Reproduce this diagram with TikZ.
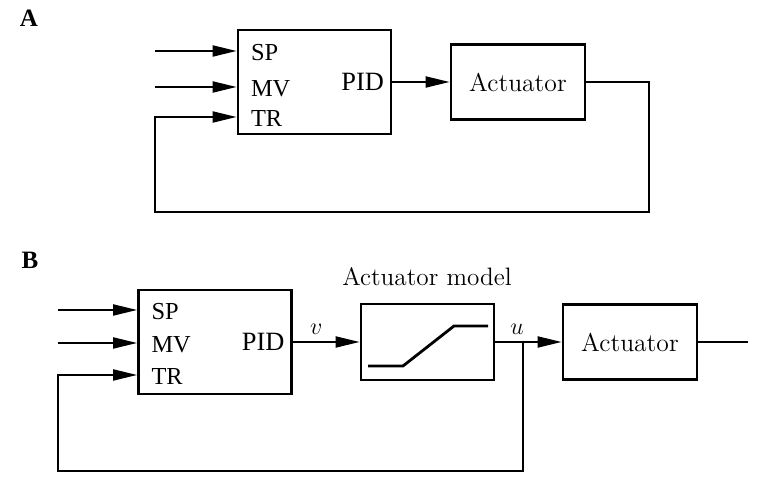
\documentclass[tikz,border=0pt]{standalone}
\usepackage{fontspec}
\usepackage{tikz}
\usetikzlibrary{arrows.meta, positioning, calc}
\newfontfamily\timesfont{Liberation Serif}

\begin{document}
\begin{tikzpicture}[
    x=0.5pt, y=-0.5pt,
    block/.style={draw, line width=1.4pt, inner sep=0pt, font=\fontsize{12.8}{15}\selectfont},
    pidbox/.style={block, minimum width=76.5pt, minimum height=52pt},
    actbox/.style={block, minimum width=67pt, minimum height=37.5pt},
    signal/.style={line width=1pt},
    arrow/.style={signal, -{Triangle[length=12pt, width=5.5pt]}},
    port/.style={anchor=west, xshift=7pt, yshift=-1pt, inner sep=0pt, font=\fontsize{12.2}{14}\timesfont},
    ctrl/.style={anchor=east, xshift=-4pt, inner sep=0pt, font=\fontsize{13.2}{15}\timesfont},
    title/.style={font=\fontsize{12.5}{15}\timesfont\bfseries}
]
    \useasboundingbox (0,0) rectangle (773,490);

    % A: PID driving the actuator
    \node[title] (labA) at (29,18) {A};
    \node[pidbox] (pidA) at (314.5,82) {};
    \node[actbox] (actA) at (518,82) {Actuator};
    \coordinate (inSPA) at (155,51);
    \coordinate (inMVA) at (155,87);
    \coordinate (inTRA) at (155,117);
    \coordinate (cornA) at (649,212);
    \node[port] (spA) at (pidA.west |- inSPA) {SP};
    \node[port] (mvA) at (pidA.west |- inMVA) {MV};
    \node[port] (trA) at (pidA.west |- inTRA) {TR};
    \node[ctrl] (pidLabA) at (pidA.east) {PID};
    \draw[arrow] (inSPA) -- (inSPA -| pidA.west);
    \draw[arrow] (inMVA) -- (inMVA -| pidA.west);
    \draw[arrow] (pidA.east) -- (actA.west);
    \draw[arrow] (actA.east) -| (cornA) -| (inTRA) -- (inTRA -| pidA.west);

    % B: PID with actuator model in the tracking loop
    \node[title] (labB) at (30,260) {B};
    \node[pidbox] (pidB) at (215,342) {};
    \node[block, minimum width=66.5pt, minimum height=38pt] (modB) at (427.5,342) {};
    \node[font=\fontsize{12.6}{15}\selectfont] (modLab) at (427,277) {Actuator model};
    \node[actbox] (actB) at (630,342) {Actuator};
    \coordinate (inSPB) at (58,310);
    \coordinate (inMVB) at (58,343);
    \coordinate (inTRB) at (58,375);
    \coordinate (brB) at (523,342);
    \coordinate (cornB) at (523,471);
    \coordinate (outB) at (748,342);
    \node[port] (spB) at (pidB.west |- inSPB) {SP};
    \node[port] (mvB) at (pidB.west |- inMVB) {MV};
    \node[port] (trB) at (pidB.west |- inTRB) {TR};
    \node[ctrl] (pidLabB) at (pidB.east) {PID};
    \draw[line width=1.4pt] ([shift={(-59.5,24)}]modB.center) -- ++(35,0) -- ++(51,-40) -- ++(34,0);
    \draw[arrow] (inSPB) -- (inSPB -| pidB.west);
    \draw[arrow] (inMVB) -- (inMVB -| pidB.west);
    \draw[arrow] (pidB.east) -- node[pos=0.35, above, font=\fontsize{12.8}{15}\selectfont] (vLab) {$v$} (modB.west);
    \draw[signal] (modB.east) -- (brB);
    \node[font=\fontsize{12.8}{15}\selectfont] (uLab) at (517,329) {$u$};
    \draw[arrow] (brB) -- (actB.west);
    \draw[signal] (actB.east) -- (outB);
    \draw[arrow] (brB) -- (cornB) -| (inTRB) -- (inTRB -| pidB.west);
\end{tikzpicture}
\end{document}
